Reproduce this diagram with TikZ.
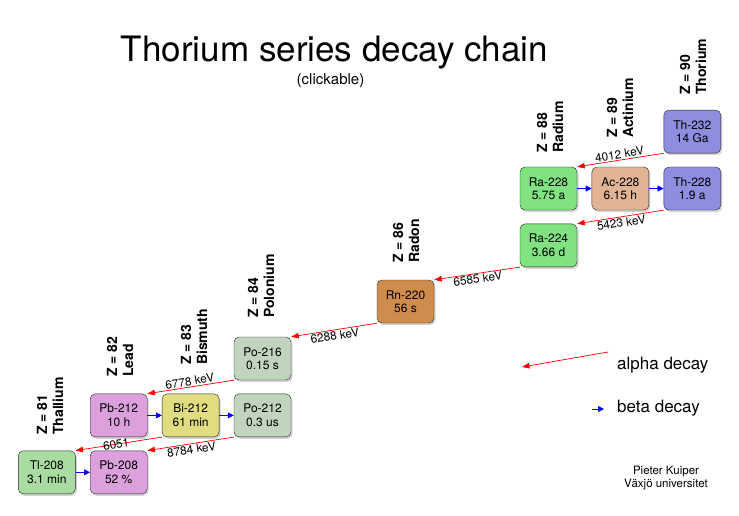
\documentclass[tikz,border=0pt]{standalone}
\usepackage{fontspec}
\setmainfont{TeX Gyre Heros}
\usetikzlibrary{arrows.meta,positioning,shadows}
\definecolor{thcol}{RGB}{142,142,224}
\definecolor{accol}{RGB}{226,180,150}
\definecolor{racol}{RGB}{128,226,128}
\definecolor{rncol}{RGB}{208,140,76}
\definecolor{pocol}{RGB}{192,212,190}
\definecolor{bicol}{RGB}{224,220,128}
\definecolor{pbcol}{RGB}{220,160,220}
\definecolor{tlcol}{RGB}{168,220,160}
\tikzset{
    box/.style={
        draw=black!85,
        rounded corners=5pt,
        align=center,
        minimum height=43pt,
        minimum width=57pt,
        inner sep=1pt,
        font=\fontsize{12}{13.5}\selectfont,
        drop shadow={shadow xshift=1.5pt, shadow yshift=-2pt, opacity=.35}
    },
    zlabel/.style={
        rotate=90,
        anchor=west,
        align=left,
        inner sep=0pt,
        font=\bfseries\fontsize{14}{16}\selectfont
    },
    alphaflow/.style={-{Triangle[length=7.5pt,width=5.5pt]}, red, line width=.7pt},
    betaflow/.style={-{Triangle[length=6pt,width=6pt]}, blue, line width=.7pt},
    kev/.style={sloped, text=black, inner sep=1pt, font=\fontsize{11.8}{13}\selectfont}
}
\newcommand{\nuc}[2]{#1\\#2}

\begin{document}
\begin{tikzpicture}[x=1pt, y=-1pt, node distance=13.5pt and 14.5pt]
        \useasboundingbox (0,0) rectangle (739,516);

        \node[anchor=base, font=\fontsize{35}{40}\selectfont] (title) at (334.5,62) {Thorium series decay chain};
        \node[anchor=base, font=\fontsize{15}{18}\selectfont] (click) at (330.5,85) {(clickable)};

        % nuclides
        \node[box, fill=racol] (ra228) at (548.5,188.5) {\nuc{Ra-228}{5.75 a}};
        \node[box, fill=accol, right=of ra228] (ac228) {\nuc{Ac-228}{6.15 h}};
        \node[box, fill=thcol, right=of ac228] (th228) {\nuc{Th-228}{1.9 a}};
        \node[box, fill=thcol, above=of th228] (th232) {\nuc{Th-232}{14 Ga}};
        \node[box, fill=racol, below=of ra228] (ra224) {\nuc{Ra-224}{3.66 d}};
        \node[box, fill=rncol] (rn220) at (405.5,301.5) {\nuc{Rn-220}{56 s}};
        \node[box, fill=pocol] (po216) at (262.5,358.5) {\nuc{Po-216}{0.15 s}};
        \node[box, fill=pocol, below=of po216] (po212) {\nuc{Po-212}{0.3 us}};
        \node[box, fill=bicol, left=of po212] (bi212) {\nuc{Bi-212}{61 min}};
        \node[box, fill=pbcol, left=of bi212] (pb212) {\nuc{Pb-212}{10 h}};
        \node[box, fill=pbcol, below=of pb212] (pb208) {\nuc{Pb-208}{52 \%}};
        \node[box, fill=tlcol, left=of pb208] (tl208) {\nuc{Tl-208}{3.1 min}};

        % elements
        \node[zlabel] (z90) at (693,95) {Z = 90\\Thorium};
        \node[zlabel] (z89) at (620,138) {Z = 89\\Actinium};
        \node[zlabel] (z88) at (550,153) {Z = 88\\Radium};
        \node[zlabel] (z86) at (406,263) {Z = 86\\Radon};
        \node[zlabel] (z84) at (261,318) {Z = 84\\Polonium};
        \node[zlabel] (z83) at (194,365) {Z = 83\\Bismuth};
        \node[zlabel] (z82) at (120,377) {Z = 82\\Lead};
        \node[zlabel] (z81) at (50,435) {Z = 81\\Thallium};

        % alpha decays
        \draw[alphaflow] (th232.south west) -- node[kev, above]{4012 keV} (ra228.north east);
        \draw[alphaflow] (th228.south west) -- node[kev, below]{5423 keV} (ra224.north east);
        \draw[alphaflow] (ra224.south west) -- node[kev, below]{6585 keV} (rn220.north east);
        \draw[alphaflow] (rn220.south west) -- node[kev, below]{6288 keV} (po216.north east);
        \draw[alphaflow] (po216.south west) -- node[kev, above]{6778 keV} (pb212.north east);
        \draw[alphaflow] (bi212.south west) -- node[kev, pos=.53]{6051} (tl208.north east);
        \draw[alphaflow] (po212.south west) -- node[kev, below]{8784 keV} (pb208.north east);

        % beta decays
        \draw[betaflow] (ra228) -- (ac228);
        \draw[betaflow] (ac228) -- (th228);
        \draw[betaflow] (pb212) -- (bi212);
        \draw[betaflow] (bi212) -- (po212);
        \draw[betaflow] (tl208) -- (pb208);

        % legend
        \coordinate (la) at (608,352);
        \coordinate (lb) at (522,367);
        \coordinate (lc) at (592,409);
        \coordinate (ld) at (604,409);
        \draw[alphaflow] (la) -- (lb);
        \draw[betaflow] (lc) -- (ld);
        \node[anchor=base west, inner sep=0pt, font=\fontsize{17}{20}\selectfont] (alphatxt) at (617,369) {alpha decay};
        \node[anchor=base west, inner sep=0pt, font=\fontsize{17}{20}\selectfont] (betatxt) at (617,412) {beta decay};

        \node[align=center, inner sep=0pt, font=\fontsize{11.5}{13.3}\selectfont] (credit) at (666,478) {Pieter Kuiper\\Växjö universitet};
    \end{tikzpicture}
\end{document}
